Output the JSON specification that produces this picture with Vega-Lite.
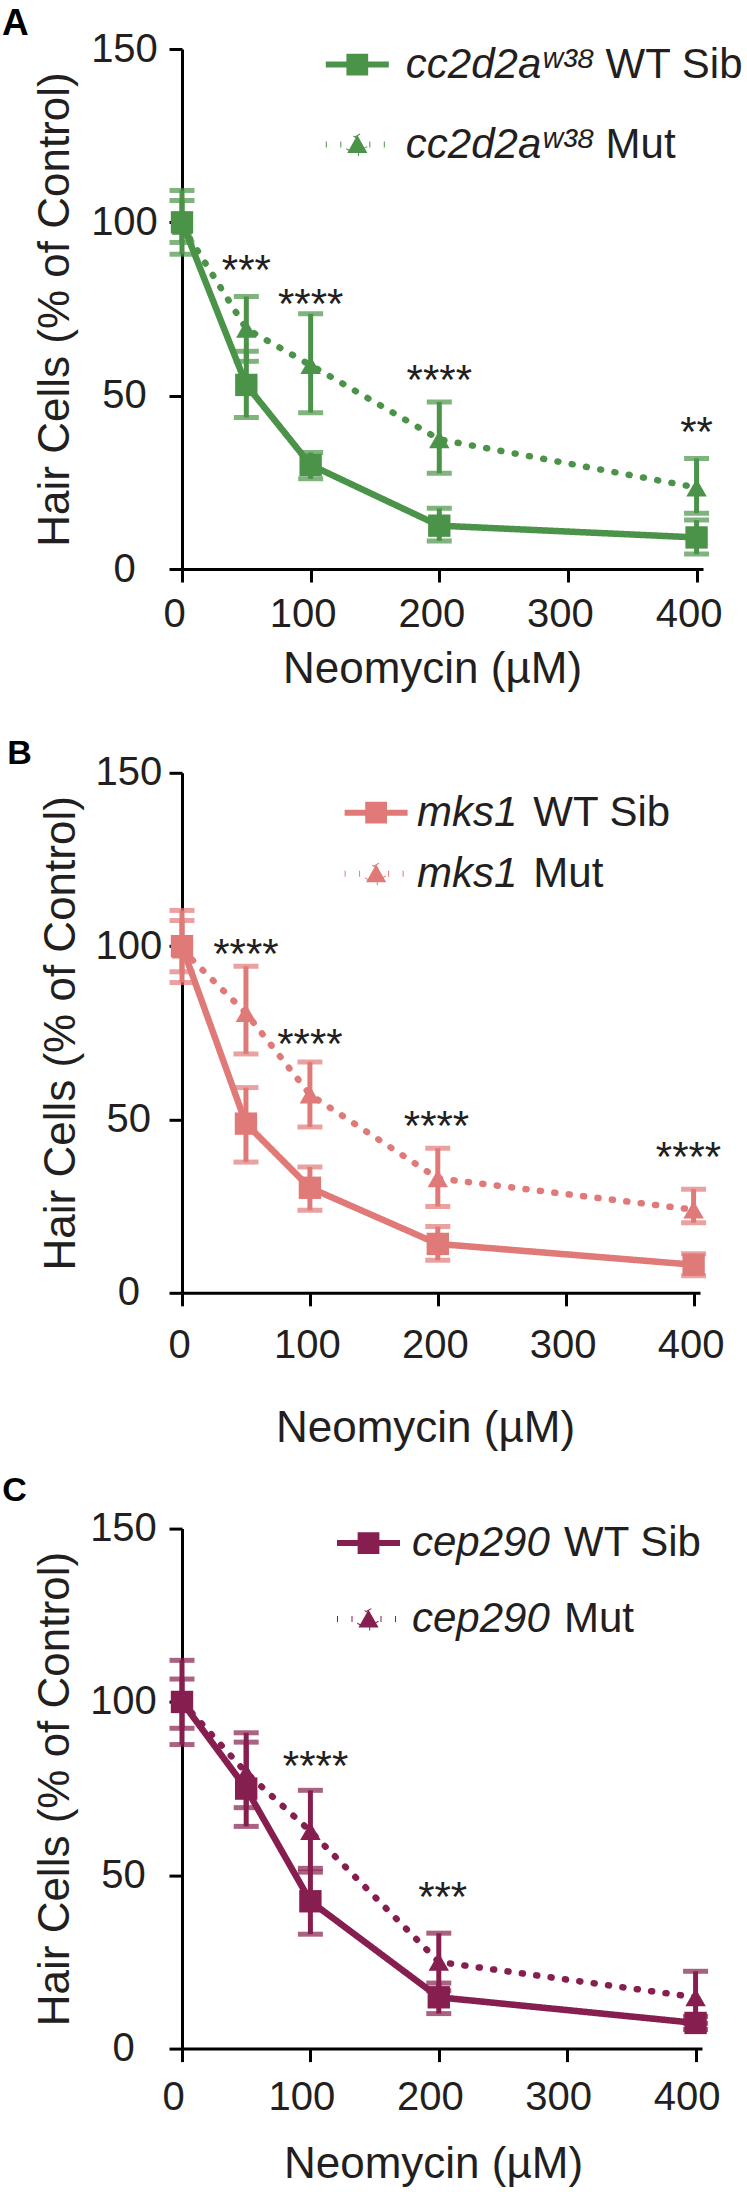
{
  "$schema": "https://vega.github.io/schema/vega-lite/v6.json",
  "padding": {"left": 2, "top": 5, "right": 0, "bottom": 0},
  "background": "white",
  "spacing": 22.8,
  "datasets": {
    "A": [
      {"dose": 0, "genotype": "WT Sib", "mean": 100, "lo": 94.2, "hi": 106.3},
      {"dose": 50, "genotype": "WT Sib", "mean": 53.1, "lo": 43.7, "hi": 62.8},
      {"dose": 100, "genotype": "WT Sib", "mean": 30, "lo": 26, "hi": 33.6},
      {"dose": 200, "genotype": "WT Sib", "mean": 12.5, "lo": 8.1, "hi": 17.5},
      {"dose": 400, "genotype": "WT Sib", "mean": 9.1, "lo": 4.3, "hi": 14.1},
      {"dose": 0, "genotype": "Mut", "mean": 99, "lo": 90.8, "hi": 109.2},
      {"dose": 50, "genotype": "Mut", "mean": 69.3, "lo": 59.9, "hi": 78.6},
      {"dose": 100, "genotype": "Mut", "mean": 58.8, "lo": 45.1, "hi": 73.6},
      {"dose": 200, "genotype": "Mut", "mean": 37.4, "lo": 27.6, "hi": 48.2},
      {"dose": 400, "genotype": "Mut", "mean": 23.5, "lo": 16.1, "hi": 31.9}
    ],
    "A_stars": [
      {"dose": 50, "level": 89.2, "label": "***"},
      {"dose": 100, "level": 79.4, "label": "****"},
      {"dose": 200, "level": 57.4, "label": "****"},
      {"dose": 400, "level": 42.4, "label": "**"}
    ],
    "B": [
      {"dose": 0, "genotype": "WT Sib", "mean": 100, "lo": 92.6, "hi": 107.4},
      {"dose": 50, "genotype": "WT Sib", "mean": 48.8, "lo": 37.7, "hi": 59.2},
      {"dose": 100, "genotype": "WT Sib", "mean": 30.3, "lo": 23.8, "hi": 36.3},
      {"dose": 200, "genotype": "WT Sib", "mean": 14.1, "lo": 9.4, "hi": 19.1},
      {"dose": 400, "genotype": "WT Sib", "mean": 8.1, "lo": 4.9, "hi": 11.3},
      {"dose": 0, "genotype": "Mut", "mean": 99, "lo": 89.5, "hi": 110.3},
      {"dose": 50, "genotype": "Mut", "mean": 80.7, "lo": 68.9, "hi": 94.2},
      {"dose": 100, "genotype": "Mut", "mean": 57.2, "lo": 47.8, "hi": 66.6},
      {"dose": 200, "genotype": "Mut", "mean": 33, "lo": 24.9, "hi": 41.7},
      {"dose": 400, "genotype": "Mut", "mean": 24, "lo": 20.2, "hi": 29.9}
    ],
    "B_stars": [
      {"dose": 50, "level": 100.6, "label": "****"},
      {"dose": 100, "level": 74.7, "label": "****"},
      {"dose": 199, "level": 50.9, "label": "****"},
      {"dose": 396, "level": 42, "label": "****"}
    ],
    "C": [
      {"dose": 0, "genotype": "WT Sib", "mean": 100, "lo": 92.4, "hi": 106.6},
      {"dose": 50, "genotype": "WT Sib", "mean": 75, "lo": 64.1, "hi": 88.4},
      {"dose": 100, "genotype": "WT Sib", "mean": 42.5, "lo": 33, "hi": 52},
      {"dose": 200, "genotype": "WT Sib", "mean": 14.8, "lo": 10.1, "hi": 18.9},
      {"dose": 400, "genotype": "WT Sib", "mean": 7.4, "lo": 5.5, "hi": 9.3},
      {"dose": 0, "genotype": "Mut", "mean": 100, "lo": 87.7, "hi": 112},
      {"dose": 50, "genotype": "Mut", "mean": 79.6, "lo": 69.5, "hi": 91.1},
      {"dose": 100, "genotype": "Mut", "mean": 62.7, "lo": 50.9, "hi": 74.5},
      {"dose": 200, "genotype": "Mut", "mean": 25, "lo": 16.7, "hi": 33.3},
      {"dose": 400, "genotype": "Mut", "mean": 14.8, "lo": 7.3, "hi": 22.3}
    ],
    "C_stars": [
      {"dose": 104, "level": 84.3, "label": "****"},
      {"dose": 203, "level": 46.5, "label": "***"}
    ]
  },
  "resolve": {"scale": {"shape": "independent", "strokeDash": "independent", "opacity": "independent"}},
  "vconcat": [
    {
      "title": {"text": "A", "anchor": "start", "frame": "group", "dx": -180, "offset": -14, "fontSize": 37, "fontWeight": "bold", "font": "Liberation Sans", "color": "#000000"},
      "width": 521, "height": 520,
      "encoding": {
        "x": {"field": "dose", "type": "quantitative", "scale": {"domain": [0, 405], "nice": false},
              "axis": {"title": "Neomycin (µM)", "values": [0, 100, 200, 300, 400], "labelPadding": 12, "titlePadding": 13, "labelOffset": -8, "titleX": 250}},
        "y": {"field": "mean", "type": "quantitative", "title": "Hair Cells (% of Control)", "scale": {"domain": [0, 150], "nice": false},
              "axis": {"title": "Hair Cells (% of Control)", "values": [0, 50, 100, 150], "labelAlign": "center", "labelPadding": 45, "titlePadding": 13}}
      },
      "layer": [
        {
          "data": {"name": "A"},
          "transform": [{"filter": "datum.dose < 0"}],
          "mark": {"type": "point", "filled": true, "color": "#4b9349", "stroke": "#4b9349", "strokeWidth": 6, "strokeCap": "round"},
          "encoding": {
            "shape": {"field": "genotype", "type": "nominal",
              "scale": {"domain": ["WT Sib", "Mut"], "range": ["M-1,0H1M-0.25,-0.25H0.25V0.25H-0.25Z", "M-1,0H1M0,-0.3L0.32,0.27H-0.32Z"]},
              "legend": {"title": null, "orient": "none", "legendX": 140.8, "legendY": -19, "padding": 0,
                "symbolSize": 3969, "symbolStrokeWidth": 6, "symbolOpacity": 1, "labelExpr": "'cc2d2aʷ³⁸'", "labelFontStyle": "italic",
                "labelOffset": 14, "rowPadding": 24, "labelLimit": 400}},
            "strokeDash": {"field": "genotype", "type": "nominal",
              "scale": {"domain": ["WT Sib", "Mut"], "range": [[1, 0], [1, 13.5]]},
              "legend": {"title": null, "orient": "none", "legendX": 140.8, "legendY": -19, "padding": 0,
                "symbolSize": 3969, "symbolStrokeWidth": 6, "symbolOpacity": 1, "labelExpr": "'cc2d2aʷ³⁸'", "labelFontStyle": "italic",
                "labelOffset": 14, "rowPadding": 24, "labelLimit": 400}}
          }
        },
        {
          "data": {"name": "A"},
          "transform": [{"filter": "datum.dose < 0"}],
          "mark": {"type": "point", "shape": "M-1,0H1"},
          "encoding": {
            "opacity": {"field": "genotype", "type": "nominal", "scale": {"domain": ["WT Sib", "Mut", "x"], "range": [0, 0, 0]},
              "legend": {"title": null, "orient": "none", "legendX": 340.6, "legendY": -19, "padding": 0, "values": ["WT Sib", "Mut"],
                "symbolType": "M-1,0H1", "symbolSize": 3969, "symbolStrokeWidth": 6, "labelOffset": 14, "rowPadding": 24, "labelLimit": 400}}
          }
        },
        {
          "data": {"name": "A"},
          "mark": {"type": "line", "color": "#4b9349", "strokeWidth": 6.5, "strokeCap": "round"},
          "encoding": {
            "strokeDash": {"field": "genotype", "type": "nominal", "legend": null}
          }
        },
        {
          "data": {"name": "A"},
          "mark": {"type": "errorbar", "color": "#4b9349", "thickness": 5, "ticks": {"size": 25, "thickness": 5}},
          "encoding": {
            "y": {"field": "lo", "type": "quantitative", "title": "Hair Cells (% of Control)"},
            "y2": {"field": "hi"}
          }
        },
        {
          "data": {"name": "A"},
          "transform": [{"filter": "datum.genotype === 'WT Sib'"}],
          "mark": {"type": "point", "shape": "square", "size": 500, "filled": true, "opacity": 1, "color": "#4b9349"}
        },
        {
          "data": {"name": "A"},
          "transform": [{"filter": "datum.genotype === 'Mut'"}],
          "mark": {"type": "point", "shape": "triangle-up", "size": 420, "filled": true, "opacity": 1, "color": "#4b9349"}
        },
        {
          "data": {"name": "A_stars"},
          "mark": {"type": "text", "fontSize": 42, "color": "#231f20", "baseline": "alphabetic", "dy": 24},
          "encoding": {
            "y": {"field": "level", "type": "quantitative", "title": "Hair Cells (% of Control)"},
            "text": {"field": "label"}
          }
        }
      ]
    },
    {
      "title": {"text": [" ", "B"], "lineHeight": 23, "anchor": "start", "frame": "group", "dx": -174.7, "offset": -18, "fontSize": 34, "fontWeight": "bold", "font": "Liberation Sans", "color": "#000000"},
      "width": 518, "height": 520,
      "encoding": {
        "x": {"field": "dose", "type": "quantitative", "scale": {"domain": [0, 405], "nice": false},
              "axis": {"title": "Neomycin (µM)", "values": [0, 100, 200, 300, 400], "labelPadding": 20, "titlePadding": 40.6, "labelOffset": -3, "titleX": 243}},
        "y": {"field": "mean", "type": "quantitative", "title": "Hair Cells (% of Control)", "scale": {"domain": [0, 150], "nice": false},
              "axis": {"title": "Hair Cells (% of Control)", "values": [0, 50, 100, 150], "labelAlign": "center", "labelPadding": 40.7, "titlePadding": 11}}
      },
      "layer": [
        {
          "data": {"name": "B"},
          "transform": [{"filter": "datum.dose < 0"}],
          "mark": {"type": "point", "filled": true, "color": "#e07a78", "stroke": "#e07a78", "strokeWidth": 6, "strokeCap": "round"},
          "encoding": {
            "shape": {"field": "genotype", "type": "nominal",
              "scale": {"domain": ["WT Sib", "Mut"], "range": ["M-1,0H1M-0.25,-0.25H0.25V0.25H-0.25Z", "M-1,0H1M0,-0.3L0.32,0.27H-0.32Z"]},
              "legend": {"title": null, "orient": "none", "legendX": 159.6, "legendY": 5.4, "padding": 0,
                "symbolSize": 3969, "symbolStrokeWidth": 6, "symbolOpacity": 1, "labelExpr": "'mks1'", "labelFontStyle": "italic",
                "labelOffset": 6.4, "rowPadding": 5, "labelLimit": 400}},
            "strokeDash": {"field": "genotype", "type": "nominal",
              "scale": {"domain": ["WT Sib", "Mut"], "range": [[1, 0], [1, 13.5]]},
              "legend": {"title": null, "orient": "none", "legendX": 159.6, "legendY": 5.4, "padding": 0,
                "symbolSize": 3969, "symbolStrokeWidth": 6, "symbolOpacity": 1, "labelExpr": "'mks1'", "labelFontStyle": "italic",
                "labelOffset": 6.4, "rowPadding": 5, "labelLimit": 400}}
          }
        },
        {
          "data": {"name": "B"},
          "transform": [{"filter": "datum.dose < 0"}],
          "mark": {"type": "point", "shape": "M-1,0H1"},
          "encoding": {
            "opacity": {"field": "genotype", "type": "nominal", "scale": {"domain": ["WT Sib", "Mut", "x"], "range": [0, 0, 0]},
              "legend": {"title": null, "orient": "none", "legendX": 275.9, "legendY": 5.4, "padding": 0, "values": ["WT Sib", "Mut"],
                "symbolType": "M-1,0H1", "symbolSize": 3969, "symbolStrokeWidth": 6, "labelOffset": 6.4, "rowPadding": 5, "labelLimit": 400}}
          }
        },
        {
          "data": {"name": "B"},
          "mark": {"type": "line", "color": "#e07a78", "strokeWidth": 6.5, "strokeCap": "round"},
          "encoding": {
            "strokeDash": {"field": "genotype", "type": "nominal", "legend": null}
          }
        },
        {
          "data": {"name": "B"},
          "mark": {"type": "errorbar", "color": "#e07a78", "thickness": 5, "ticks": {"size": 25, "thickness": 5}},
          "encoding": {
            "y": {"field": "lo", "type": "quantitative", "title": "Hair Cells (% of Control)"},
            "y2": {"field": "hi"}
          }
        },
        {
          "data": {"name": "B"},
          "transform": [{"filter": "datum.genotype === 'WT Sib'"}],
          "mark": {"type": "point", "shape": "square", "size": 500, "filled": true, "opacity": 1, "color": "#e07a78"}
        },
        {
          "data": {"name": "B"},
          "transform": [{"filter": "datum.genotype === 'Mut'"}],
          "mark": {"type": "point", "shape": "triangle-up", "size": 420, "filled": true, "opacity": 1, "color": "#e07a78"}
        },
        {
          "data": {"name": "B_stars"},
          "mark": {"type": "text", "fontSize": 42, "color": "#231f20", "baseline": "alphabetic", "dy": 24},
          "encoding": {
            "y": {"field": "level", "type": "quantitative", "title": "Hair Cells (% of Control)"},
            "text": {"field": "label"}
          }
        }
      ]
    },
    {
      "title": {"text": "C", "anchor": "start", "frame": "group", "dx": -179.7, "offset": 0.6, "fontSize": 34, "fontWeight": "bold", "font": "Liberation Sans", "color": "#000000"},
      "width": 520, "height": 520,
      "encoding": {
        "x": {"field": "dose", "type": "quantitative", "scale": {"domain": [0, 405], "nice": false},
              "axis": {"title": "Neomycin (µM)", "values": [0, 100, 200, 300, 400], "labelPadding": 16, "titlePadding": 25, "labelOffset": -9, "titleX": 251}},
        "y": {"field": "mean", "type": "quantitative", "title": "Hair Cells (% of Control)", "scale": {"domain": [0, 150], "nice": false},
              "axis": {"title": "Hair Cells (% of Control)", "values": [0, 50, 100, 150], "labelAlign": "center", "labelPadding": 46, "titlePadding": 12}}
      },
      "layer": [
        {
          "data": {"name": "C"},
          "transform": [{"filter": "datum.dose < 0"}],
          "mark": {"type": "point", "filled": true, "color": "#861f4f", "stroke": "#861f4f", "strokeWidth": 6, "strokeCap": "round"},
          "encoding": {
            "shape": {"field": "genotype", "type": "nominal",
              "scale": {"domain": ["WT Sib", "Mut"], "range": ["M-1,0H1M-0.25,-0.25H0.25V0.25H-0.25Z", "M-1,0H1M0,-0.3L0.32,0.27H-0.32Z"]},
              "legend": {"title": null, "orient": "none", "legendX": 152, "legendY": -20, "padding": 0,
                "symbolSize": 3969, "symbolStrokeWidth": 6, "symbolOpacity": 1, "labelExpr": "'cep290'", "labelFontStyle": "italic",
                "labelOffset": 9, "rowPadding": 20, "labelLimit": 400}},
            "strokeDash": {"field": "genotype", "type": "nominal",
              "scale": {"domain": ["WT Sib", "Mut"], "range": [[1, 0], [1, 13.5]]},
              "legend": {"title": null, "orient": "none", "legendX": 152, "legendY": -20, "padding": 0,
                "symbolSize": 3969, "symbolStrokeWidth": 6, "symbolOpacity": 1, "labelExpr": "'cep290'", "labelFontStyle": "italic",
                "labelOffset": 9, "rowPadding": 20, "labelLimit": 400}}
          }
        },
        {
          "data": {"name": "C"},
          "transform": [{"filter": "datum.dose < 0"}],
          "mark": {"type": "point", "shape": "M-1,0H1"},
          "encoding": {
            "opacity": {"field": "genotype", "type": "nominal", "scale": {"domain": ["WT Sib", "Mut", "x"], "range": [0, 0, 0]},
              "legend": {"title": null, "orient": "none", "legendX": 304, "legendY": -20, "padding": 0, "values": ["WT Sib", "Mut"],
                "symbolType": "M-1,0H1", "symbolSize": 3969, "symbolStrokeWidth": 6, "labelOffset": 9, "rowPadding": 20, "labelLimit": 400}}
          }
        },
        {
          "data": {"name": "C"},
          "mark": {"type": "line", "color": "#861f4f", "strokeWidth": 6.5, "strokeCap": "round"},
          "encoding": {
            "strokeDash": {"field": "genotype", "type": "nominal", "legend": null}
          }
        },
        {
          "data": {"name": "C"},
          "mark": {"type": "errorbar", "color": "#861f4f", "thickness": 5, "ticks": {"size": 25, "thickness": 5}},
          "encoding": {
            "y": {"field": "lo", "type": "quantitative", "title": "Hair Cells (% of Control)"},
            "y2": {"field": "hi"}
          }
        },
        {
          "data": {"name": "C"},
          "transform": [{"filter": "datum.genotype === 'WT Sib'"}],
          "mark": {"type": "point", "shape": "square", "size": 500, "filled": true, "opacity": 1, "color": "#861f4f"}
        },
        {
          "data": {"name": "C"},
          "transform": [{"filter": "datum.genotype === 'Mut'"}],
          "mark": {"type": "point", "shape": "triangle-up", "size": 420, "filled": true, "opacity": 1, "color": "#861f4f"}
        },
        {
          "data": {"name": "C_stars"},
          "mark": {"type": "text", "fontSize": 42, "color": "#231f20", "baseline": "alphabetic", "dy": 24},
          "encoding": {
            "y": {"field": "level", "type": "quantitative", "title": "Hair Cells (% of Control)"},
            "text": {"field": "label"}
          }
        }
      ]
    }
  ],
  "config": {
    "font": "Liberation Sans",
    "view": {"stroke": null},
    "axis": {
      "grid": false,
      "domainColor": "#000000", "domainWidth": 3,
      "tickColor": "#000000", "tickWidth": 3, "tickSize": 13,
      "labelFont": "Liberation Sans", "labelFontSize": 40, "labelColor": "#231f20", "labelFlush": false, "labelOverlap": false,
      "titleFont": "Liberation Sans", "titleFontSize": 44, "titleFontWeight": "normal", "titleColor": "#231f20"
    },
    "legend": {
      "labelFont": "Liberation Sans", "labelFontSize": 42, "labelColor": "#231f20"
    }
  }
}
